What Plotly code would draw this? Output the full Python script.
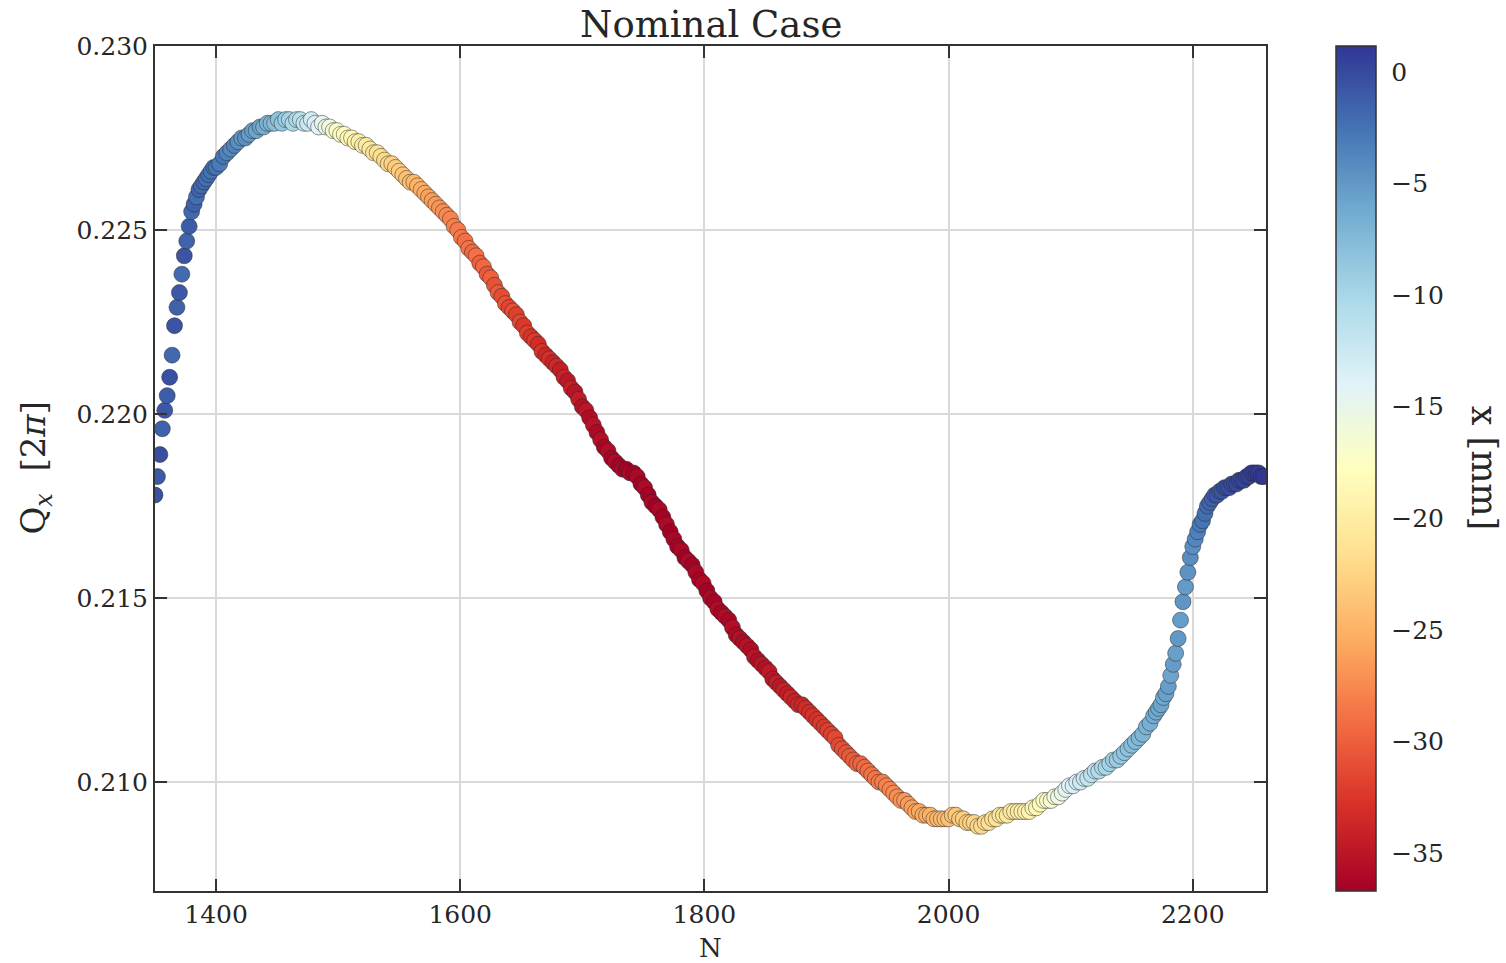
import plotly.graph_objects as go

# ---------------- data ----------------
N_VALUES = [
    # steep rise at the start
    1350, 1352, 1354, 1356, 1358, 1360, 1362, 1364, 1366, 1368,
    1370, 1372, 1374, 1376, 1378, 1380, 1382, 1384, 1386, 1388,
    1390, 1392, 1394, 1396, 1398,
    # main arc and descent
    1400, 1403, 1406, 1409, 1412, 1415, 1418, 1421, 1424, 1427,
    1430, 1433, 1436, 1439, 1442, 1445, 1448, 1451, 1454, 1457,
    1460, 1463, 1466, 1469, 1472, 1475, 1478, 1481, 1484, 1487,
    1490, 1493, 1496, 1499, 1502, 1505, 1508, 1511, 1514, 1517,
    1520, 1523, 1526, 1529, 1532, 1535, 1538, 1541, 1544, 1547,
    1550, 1553, 1556, 1559, 1562, 1565, 1568, 1571, 1574, 1577,
    1580, 1583, 1586, 1589, 1592, 1595, 1598, 1601, 1604, 1607,
    1610, 1613, 1616, 1619, 1622, 1625, 1628, 1631, 1634, 1637,
    1640, 1643, 1646, 1649, 1652, 1655, 1658, 1661, 1664, 1667,
    1670, 1673, 1676, 1679, 1682, 1685, 1688, 1691, 1694, 1697,
    1700, 1703, 1706, 1709, 1712, 1715, 1718, 1721, 1724, 1727,
    1730, 1733, 1736, 1739, 1742, 1745, 1748, 1751, 1754, 1757,
    1760, 1763, 1766, 1769, 1772, 1775, 1778, 1781, 1784, 1787,
    1790, 1793, 1796, 1799, 1802, 1805, 1808, 1811, 1814, 1817,
    1820, 1823, 1826, 1829, 1832, 1835, 1838, 1841, 1844, 1847,
    1850, 1853, 1856, 1859, 1862, 1865, 1868, 1871, 1874, 1877,
    1880, 1883, 1886, 1889, 1892, 1895, 1898, 1901, 1904, 1907,
    1910, 1913, 1916, 1919, 1922, 1925, 1928, 1931, 1934, 1937,
    1940, 1943, 1946, 1949, 1952, 1955, 1958, 1961, 1964, 1967,
    1970, 1973, 1976, 1979, 1982, 1985, 1988, 1991, 1994, 1997,
    2000, 2003, 2006, 2009, 2012, 2015, 2018, 2021, 2024, 2027,
    2030, 2033, 2036, 2039, 2042, 2045, 2048, 2051, 2054, 2057,
    2060, 2063, 2066, 2069, 2072, 2075, 2078, 2081, 2084, 2087,
    2090, 2093, 2096, 2099, 2102, 2105, 2108, 2111, 2114, 2117,
    2120, 2123, 2126, 2129, 2132, 2135, 2138, 2141, 2144, 2147,
    2150, 2153, 2156, 2159, 2162, 2165, 2168,
    # steep rise at the end
    2170, 2172, 2174, 2176, 2178, 2180, 2182, 2184, 2186, 2188,
    2190, 2192, 2194, 2196, 2198, 2200, 2202, 2204, 2206, 2208,
    2210, 2212, 2214, 2216, 2218, 2220, 2222, 2224, 2226, 2228,
    2230, 2232, 2234, 2236, 2238, 2240, 2242, 2244, 2246, 2248,
    2250, 2252, 2254, 2256, 2258,
]

QX_VALUES = [
    0.2178, 0.2183, 0.2189, 0.2196, 0.2201, 0.2205, 0.2210, 0.2216, 0.2224, 0.2229,
    0.2233, 0.2238, 0.2243, 0.2247, 0.2251, 0.2255, 0.2257, 0.2259, 0.2261, 0.2262,
    0.2263, 0.2264, 0.2265, 0.2266, 0.2267,
    0.2267, 0.2268, 0.2270, 0.2271, 0.2272, 0.2273, 0.2274, 0.2275, 0.2275, 0.2276,
    0.2277, 0.2277, 0.2278, 0.2278, 0.2279, 0.2279, 0.2279, 0.2280, 0.2279, 0.2280,
    0.2280, 0.2279, 0.2280, 0.2280, 0.2279, 0.2279, 0.2280, 0.2279, 0.2278, 0.2279,
    0.2278, 0.2278, 0.2277, 0.2277, 0.2276, 0.2276, 0.2275, 0.2275, 0.2274, 0.2274,
    0.2273, 0.2273, 0.2272, 0.2271, 0.2271, 0.2270, 0.2269, 0.2268, 0.2268, 0.2267,
    0.2266, 0.2265, 0.2264, 0.2263, 0.2263, 0.2262, 0.2261, 0.2260, 0.2259, 0.2258,
    0.2257, 0.2256, 0.2255, 0.2254, 0.2253, 0.2251, 0.2250, 0.2248, 0.2247, 0.2245,
    0.2244, 0.2243, 0.2241, 0.2240, 0.2238, 0.2237, 0.2235, 0.2233, 0.2232, 0.2230,
    0.2229, 0.2228, 0.2227, 0.2225, 0.2224, 0.2222, 0.2221, 0.2220, 0.2219, 0.2217,
    0.2216, 0.2215, 0.2214, 0.2213, 0.2212, 0.2210, 0.2209, 0.2207, 0.2206, 0.2204,
    0.2202, 0.2201, 0.2199, 0.2197, 0.2195, 0.2193, 0.2191, 0.2190, 0.2188, 0.2187,
    0.2186, 0.2185, 0.2185, 0.2184, 0.2184, 0.2183, 0.2181, 0.2180, 0.2178, 0.2176,
    0.2175, 0.2174, 0.2172, 0.2170, 0.2168, 0.2166, 0.2164, 0.2163, 0.2161, 0.2160,
    0.2159, 0.2157, 0.2155, 0.2154, 0.2152, 0.2150, 0.2149, 0.2147, 0.2146, 0.2145,
    0.2144, 0.2142, 0.2140, 0.2139, 0.2138, 0.2137, 0.2136, 0.2134, 0.2133, 0.2132,
    0.2131, 0.2130, 0.2128, 0.2127, 0.2126, 0.2125, 0.2124, 0.2123, 0.2122, 0.2121,
    0.2121, 0.2120, 0.2119, 0.2118, 0.2117, 0.2116, 0.2115, 0.2114, 0.2113, 0.2112,
    0.2110, 0.2109, 0.2108, 0.2107, 0.2106, 0.2105, 0.2105, 0.2104, 0.2103, 0.2102,
    0.2101, 0.2100, 0.2100, 0.2099, 0.2098, 0.2097, 0.2096, 0.2095, 0.2095, 0.2094,
    0.2093, 0.2092, 0.2092, 0.2091, 0.2091, 0.2091, 0.2090, 0.2090, 0.2090, 0.2090,
    0.2090, 0.2091, 0.2091, 0.2090, 0.2090, 0.2089, 0.2089, 0.2089, 0.2088, 0.2088,
    0.2089, 0.2089, 0.2090, 0.2090, 0.2091, 0.2091, 0.2091, 0.2092, 0.2092, 0.2092,
    0.2092, 0.2092, 0.2092, 0.2093, 0.2093, 0.2094, 0.2095, 0.2095, 0.2095, 0.2096,
    0.2096, 0.2097, 0.2098, 0.2099, 0.2099, 0.2100, 0.2100, 0.2101, 0.2101, 0.2102,
    0.2103, 0.2103, 0.2104, 0.2104, 0.2105, 0.2106, 0.2106, 0.2107, 0.2108, 0.2109,
    0.2110, 0.2111, 0.2112, 0.2113, 0.2115, 0.2116, 0.2118,
    0.2119, 0.2120, 0.2121, 0.2123, 0.2124, 0.2126, 0.2129, 0.2132, 0.2135, 0.2139,
    0.2144, 0.2149, 0.2153, 0.2157, 0.2161, 0.2164, 0.2166, 0.2168, 0.2170, 0.2171,
    0.2173, 0.2175, 0.2176, 0.2177, 0.2178, 0.2178, 0.2179, 0.2179, 0.2180, 0.2180,
    0.2180, 0.2181, 0.2181, 0.2181, 0.2182, 0.2182, 0.2182, 0.2183, 0.2183, 0.2184,
    0.2184, 0.2184, 0.2184, 0.2183, 0.2183,
]

X_MM = [
    -0.5, -1.0, -0.3, -1.5, -0.8, -1.2, -0.4, -1.8, -0.6, -1.4,
    -0.9, -2.0, -0.7, -1.6, -1.1, -1.9, -1.3, -2.2, -1.5, -2.0,
    -1.7, -2.4, -2.1, -2.6, -2.3,
    -2.5, -3.0, -2.7, -3.5, -3.9, -3.6, -4.3, -4.7, -4.4, -5.1,
    -5.4, -5.9, -5.6, -6.4, -6.9, -7.2, -7.8, -8.2, -8.7, -9.2,
    -9.6, -10.1, -10.5, -11.0, -11.6, -12.2, -12.8, -13.4, -14.0, -14.7,
    -15.0, -15.8, -16.4, -17.0, -17.6, -18.0, -18.4, -18.8, -19.2, -19.5,
    -19.8, -20.2, -20.5, -20.9, -21.3, -21.6, -22.0, -22.3, -22.6, -22.9,
    -23.0, -23.5, -23.9, -24.2, -24.6, -24.9, -25.3, -25.6, -26.0, -26.3,
    -26.4, -26.8, -27.1, -27.5, -27.8, -28.0, -28.3, -28.6, -29.0, -28.7,
    -29.4, -28.9, -30.0, -29.5, -30.4, -29.9, -30.8, -30.3, -31.2, -30.7,
    -31.6, -31.0, -32.0, -31.5, -32.4, -31.9, -32.8, -32.3, -33.2, -32.7,
    -33.6, -33.0, -34.0, -33.5, -34.4, -33.9, -34.8, -34.3, -35.2, -34.6,
    -35.5, -35.0, -35.8, -35.3, -36.1, -35.5, -36.3, -35.7, -36.4, -35.8,
    -36.5, -35.9, -36.6, -36.0, -36.6, -36.1, -36.7, -36.0, -36.6, -36.2,
    -36.7, -36.1, -36.6, -36.0, -36.7, -36.2, -36.6, -36.1, -36.7, -36.0,
    -36.6, -36.1, -36.5, -35.9, -36.6, -36.0, -36.4, -35.8, -36.3, -35.7,
    -36.2, -35.6, -36.1, -35.5, -35.9, -35.3, -35.8, -35.1, -35.6, -34.9,
    -35.4, -34.7, -35.1, -34.4, -34.8, -34.1, -34.5, -33.8, -34.1, -33.5,
    -33.8, -33.2, -33.4, -32.8, -33.0, -32.4, -32.5, -31.9, -32.0, -31.4,
    -31.4, -30.9, -30.8, -30.4, -30.2, -29.9, -29.7, -29.4, -29.2, -28.9,
    -28.7, -28.5, -28.2, -28.0, -27.7, -27.5, -27.2, -27.0, -26.7, -26.5,
    -26.2, -26.0, -25.7, -25.5, -25.3, -25.1, -24.9, -24.6, -24.4, -24.2,
    -24.0, -23.8, -23.5, -23.3, -23.1, -22.9, -22.6, -22.4, -22.2, -22.0,
    -21.8, -21.6, -21.4, -21.2, -21.0, -20.8, -20.6, -20.4, -20.2, -20.0,
    -19.7, -19.5, -19.2, -18.9, -18.6, -18.2, -17.7, -17.2, -16.7, -16.2,
    -15.6, -15.0, -14.5, -14.0, -13.5, -13.0, -12.6, -12.2, -11.8, -11.4,
    -11.0, -10.6, -10.3, -9.9, -9.6, -9.3, -9.0, -8.7, -8.4, -8.1,
    -7.8, -7.6, -7.3, -7.1, -6.9, -6.6, -6.4,
    -6.2, -6.0, -5.8, -6.2, -5.6, -5.4, -5.8, -5.2, -5.5, -5.0,
    -5.3, -4.8, -5.1, -4.6, -4.2, -4.4, -3.8, -3.4, -3.0, -2.6,
    -2.3, -2.0, -1.7, -1.5, -1.2, -1.0, -0.8, -0.7, -0.5, -0.4,
    -0.3, -0.2, -0.1, 0.0, 0.1, 0.2, 0.3, 0.4, 0.5, 0.6,
    0.7, 0.8, 0.9, 1.0, 1.1,
]

X_TICKS = [1400, 1600, 1800, 2000, 2200]
Y_TICKS = [0.210, 0.215, 0.220, 0.225, 0.230]
CB_TICKS = [0, -5, -10, -15, -20, -25, -30, -35]
CB_TICKTEXT = ["0", "\u22125", "\u221210", "\u221215", "\u221220", "\u221225", "\u221230", "\u221235"]

RDYLBU = ["rgb(165,0,38)", "rgb(215,48,39)", "rgb(244,109,67)", "rgb(253,174,97)",
          "rgb(254,224,144)", "rgb(255,255,191)", "rgb(224,243,248)", "rgb(171,217,233)",
          "rgb(116,173,209)", "rgb(69,117,180)", "rgb(49,54,149)"]
COLORSCALE = [[i / 10, c] for i, c in enumerate(RDYLBU)]

FONT = "DejaVu Serif"
TXT = "#262626"

fig = go.Figure()
fig.add_trace(go.Scatter(
    x=N_VALUES, y=QX_VALUES, mode="markers",
    marker=dict(
        size=16, color=X_MM, colorscale=COLORSCALE, cmin=-36.7, cmax=1.16,
        line=dict(color="rgba(40,40,40,0.7)", width=0.7),
        colorbar=dict(
            x=1.063, xanchor="left", xpad=0, y=0.5, yanchor="middle",
            len=1.0, lenmode="fraction", thickness=40, ypad=0,
            outlinecolor="#333333", outlinewidth=1.5,
            tickvals=CB_TICKS, ticktext=CB_TICKTEXT,
            ticks="outside", ticklen=10, tickcolor="rgba(0,0,0,0)",
            tickfont=dict(family=FONT, size=25, color=TXT),
        ),
    ),
    showlegend=False,
))

axis_common = dict(
    showline=True, linecolor="#333333", linewidth=2, mirror="ticks",
    ticks="inside", ticklen=12, tickwidth=1.5, tickcolor="#333333",
    showgrid=True, gridcolor="#d9d9d9", gridwidth=1.5, zeroline=False,
    tickfont=dict(family=FONT, size=25, color=TXT),
)

fig.update_layout(
    width=1506, height=963,
    margin=dict(l=155, r=240, t=46, b=72),
    paper_bgcolor="white", plot_bgcolor="white",
    xaxis=dict(range=[1350, 2260], tickvals=X_TICKS, **axis_common),
    yaxis=dict(range=[0.20704, 0.230], tickvals=Y_TICKS, tickformat=".3f", **axis_common),
    annotations=[
        dict(text="Nominal Case", xref="paper", yref="paper", x=0.5, y=1.026,
             xanchor="center", yanchor="middle", showarrow=False,
             font=dict(family=FONT, size=37, color=TXT)),
        dict(text="N", xref="paper", yref="paper", x=0.5, y=-0.0675,
             xanchor="center", yanchor="middle", showarrow=False,
             font=dict(family=FONT, size=26, color=TXT)),
        dict(text="Q<sub><i>x</i></sub>  [2<i>\u03c0</i>]", xref="paper", yref="paper",
             x=-0.108, y=0.5, xanchor="center", yanchor="middle", textangle=-90,
             showarrow=False, font=dict(family=FONT, size=34, color=TXT)),
        dict(text="x [mm]", xref="paper", yref="paper", x=1.197, y=0.5,
             xanchor="center", yanchor="middle", textangle=90, showarrow=False,
             font=dict(family=FONT, size=35, color=TXT)),
    ],
)

fig.write_html("out.html")
